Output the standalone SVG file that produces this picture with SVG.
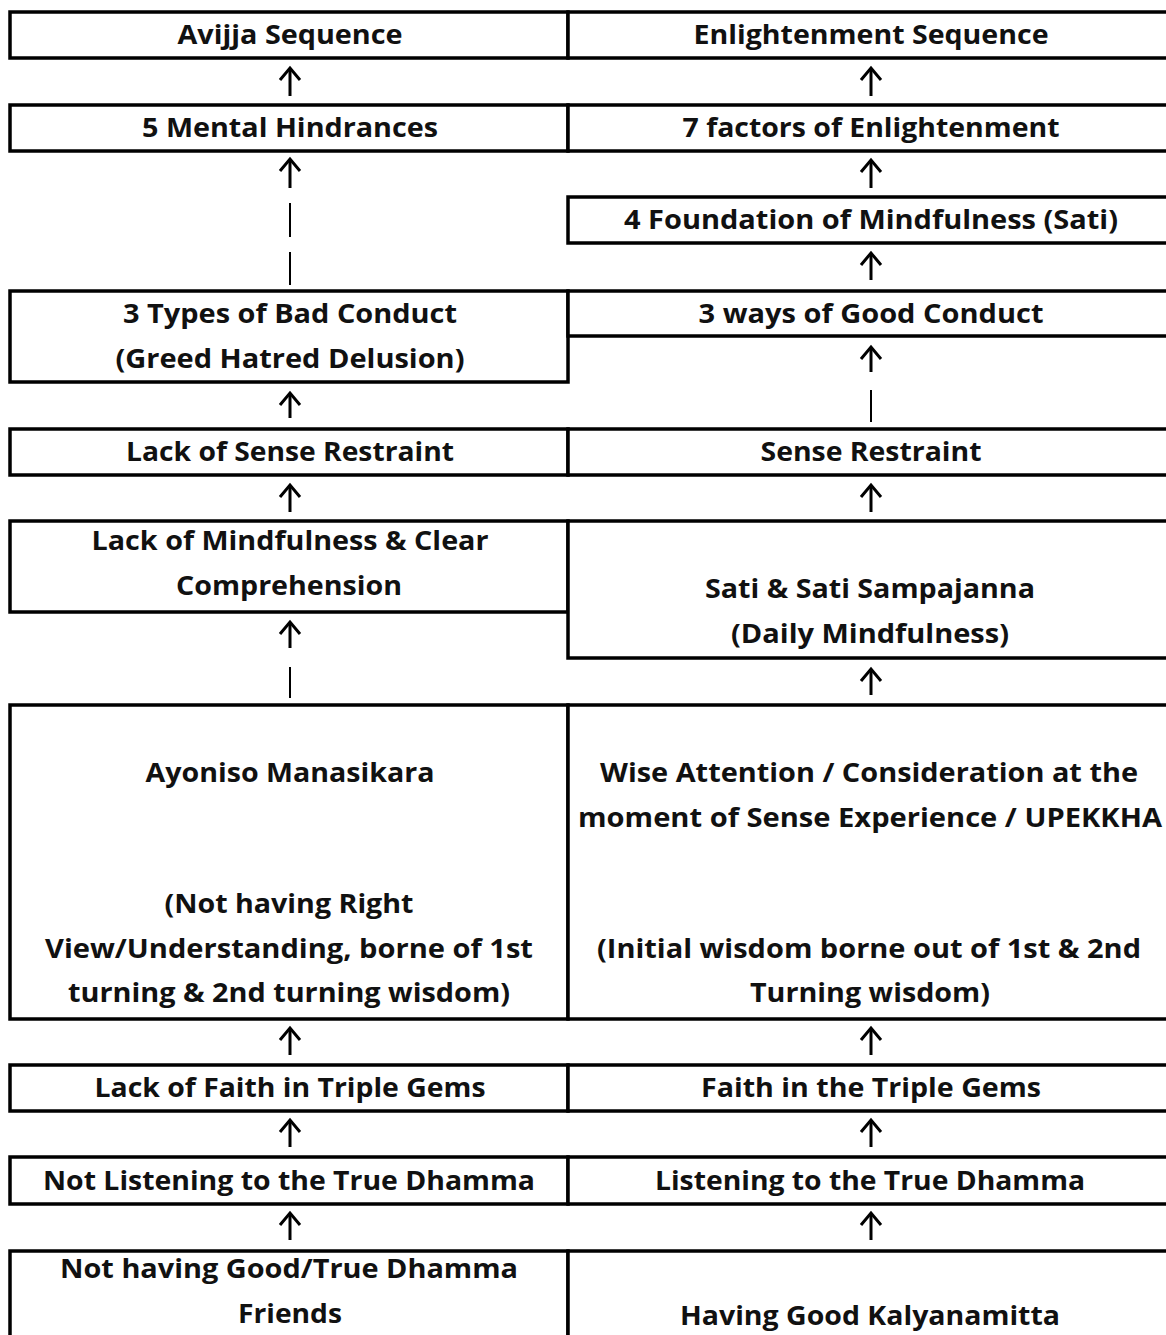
<svg xmlns="http://www.w3.org/2000/svg" width="1166" height="1335" viewBox="0 0 1166 1335">
<defs>
<style>
.box{fill:#fff;stroke:#000;stroke-width:3.5}
.t{font-family:"Open Sans","Noto Sans","Liberation Sans",sans-serif;font-weight:bold;font-size:27px;fill:#111;text-anchor:middle}
.c{stroke:#000;stroke-width:3;fill:none}
.d{stroke:#000;stroke-width:2;fill:none}
</style>
<marker id="ah" markerUnits="userSpaceOnUse" viewBox="-15 -15 30 30" markerWidth="30" markerHeight="30" refX="0" refY="0" orient="auto" overflow="visible">
<path d="M -12 -10 L 0 0 L -12 10" fill="none" stroke="#000" stroke-width="3"/>
</marker>
</defs>
<rect width="1166" height="1335" fill="#fff"/>

<g id="L1"><rect class="box" x="10" y="12" width="558" height="46"/><text class="t" x="290" y="44" textLength="225" lengthAdjust="spacingAndGlyphs">Avijja Sequence</text></g>
<g id="R1"><rect class="box" x="568" y="12" width="606" height="46"/><text class="t" x="871" y="44" textLength="355" lengthAdjust="spacingAndGlyphs">Enlightenment Sequence</text></g>
<g id="L2"><rect class="box" x="10" y="105" width="558" height="46"/><text class="t" x="290" y="137" textLength="296" lengthAdjust="spacingAndGlyphs">5 Mental Hindrances</text></g>
<g id="R2"><rect class="box" x="568" y="105" width="606" height="46"/><text class="t" x="871" y="137" textLength="377" lengthAdjust="spacingAndGlyphs">7 factors of Enlightenment</text></g>
<g id="R3"><rect class="box" x="568" y="197" width="606" height="46"/><text class="t" x="871" y="229" textLength="494" lengthAdjust="spacingAndGlyphs">4 Foundation of Mindfulness (Sati)</text></g>
<g id="L4"><rect class="box" x="10" y="291" width="558" height="91"/><text class="t" x="290" y="323" textLength="334" lengthAdjust="spacingAndGlyphs">3 Types of Bad Conduct</text><text class="t" x="290" y="368" textLength="349" lengthAdjust="spacingAndGlyphs">(Greed Hatred Delusion)</text></g>
<g id="R4"><rect class="box" x="568" y="291" width="606" height="45"/><text class="t" x="871" y="323" textLength="345" lengthAdjust="spacingAndGlyphs">3 ways of Good Conduct</text></g>
<g id="L5"><rect class="box" x="10" y="429" width="558" height="46"/><text class="t" x="290" y="461" textLength="328" lengthAdjust="spacingAndGlyphs">Lack of Sense Restraint</text></g>
<g id="R5"><rect class="box" x="568" y="429" width="606" height="46"/><text class="t" x="871" y="461" textLength="221" lengthAdjust="spacingAndGlyphs">Sense Restraint</text></g>
<g id="L6"><rect class="box" x="10" y="521" width="558" height="91"/><text class="t" x="290" y="550" textLength="397" lengthAdjust="spacingAndGlyphs">Lack of Mindfulness &amp; Clear</text><text class="t" x="289" y="595" textLength="226" lengthAdjust="spacingAndGlyphs">Comprehension</text></g>
<g id="R6"><rect class="box" x="568" y="521" width="606" height="137"/><text class="t" x="870" y="598" textLength="330" lengthAdjust="spacingAndGlyphs">Sati &amp; Sati Sampajanna</text><text class="t" x="870" y="643" textLength="278" lengthAdjust="spacingAndGlyphs">(Daily Mindfulness)</text></g>
<g id="L7"><rect class="box" x="10" y="705" width="558" height="314"/><text class="t" x="290" y="782" textLength="289" lengthAdjust="spacingAndGlyphs">Ayoniso Manasikara</text><text class="t" x="289" y="913" textLength="249" lengthAdjust="spacingAndGlyphs">(Not having Right</text><text class="t" x="289" y="958" textLength="488" lengthAdjust="spacingAndGlyphs">View/Understanding, borne of 1st</text><text class="t" x="289" y="1002" textLength="442" lengthAdjust="spacingAndGlyphs">turning &amp; 2nd turning wisdom)</text></g>
<g id="R7"><rect class="box" x="568" y="705" width="606" height="314"/><text class="t" x="869" y="782" textLength="538" lengthAdjust="spacingAndGlyphs">Wise Attention / Consideration at the</text><text class="t" x="870" y="827" textLength="584" lengthAdjust="spacingAndGlyphs">moment of Sense Experience / UPEKKHA</text><text class="t" x="869" y="958" textLength="544" lengthAdjust="spacingAndGlyphs">(Initial wisdom borne out of 1st &amp; 2nd</text><text class="t" x="870" y="1002" textLength="240" lengthAdjust="spacingAndGlyphs">Turning wisdom)</text></g>
<g id="L8"><rect class="box" x="10" y="1065" width="558" height="46"/><text class="t" x="290" y="1097" textLength="391" lengthAdjust="spacingAndGlyphs">Lack of Faith in Triple Gems</text></g>
<g id="R8"><rect class="box" x="568" y="1065" width="606" height="46"/><text class="t" x="871" y="1097" textLength="340" lengthAdjust="spacingAndGlyphs">Faith in the Triple Gems</text></g>
<g id="L9"><rect class="box" x="10" y="1157" width="558" height="47"/><text class="t" x="289" y="1190" textLength="492" lengthAdjust="spacingAndGlyphs">Not Listening to the True Dhamma</text></g>
<g id="R9"><rect class="box" x="568" y="1157" width="606" height="47"/><text class="t" x="870" y="1190" textLength="430" lengthAdjust="spacingAndGlyphs">Listening to the True Dhamma</text></g>
<g id="L10"><rect class="box" x="10" y="1251" width="558" height="110"/><text class="t" x="289" y="1278" textLength="458" lengthAdjust="spacingAndGlyphs">Not having Good/True Dhamma</text><text class="t" x="290" y="1323" textLength="104" lengthAdjust="spacingAndGlyphs">Friends</text></g>
<g id="R10"><rect class="box" x="568" y="1251" width="606" height="110"/><text class="t" x="870" y="1325" textLength="380" lengthAdjust="spacingAndGlyphs">Having Good Kalyanamitta</text></g>

<g id="connectors">
<line class="c" x1="290" y1="96" x2="290" y2="68" marker-end="url(#ah)"/>
<line class="c" x1="871" y1="96" x2="871" y2="68" marker-end="url(#ah)"/>
<line class="c" x1="290" y1="188" x2="290" y2="159" marker-end="url(#ah)"/>
<line class="d" x1="290" y1="237" x2="290" y2="203"/>
<line class="d" x1="290" y1="285" x2="290" y2="252"/>
<line class="c" x1="871" y1="188" x2="871" y2="160" marker-end="url(#ah)"/>
<line class="c" x1="871" y1="280" x2="871" y2="253" marker-end="url(#ah)"/>
<line class="c" x1="290" y1="418" x2="290" y2="393" marker-end="url(#ah)"/>
<line class="c" x1="871" y1="372" x2="871" y2="347" marker-end="url(#ah)"/>
<line class="d" x1="871" y1="422" x2="871" y2="390"/>
<line class="c" x1="290" y1="512" x2="290" y2="485" marker-end="url(#ah)"/>
<line class="c" x1="871" y1="512" x2="871" y2="485" marker-end="url(#ah)"/>
<line class="c" x1="290" y1="648" x2="290" y2="622" marker-end="url(#ah)"/>
<line class="d" x1="290" y1="698" x2="290" y2="667"/>
<line class="c" x1="871" y1="695" x2="871" y2="669" marker-end="url(#ah)"/>
<line class="c" x1="290" y1="1055" x2="290" y2="1028" marker-end="url(#ah)"/>
<line class="c" x1="871" y1="1055" x2="871" y2="1028" marker-end="url(#ah)"/>
<line class="c" x1="290" y1="1147" x2="290" y2="1120" marker-end="url(#ah)"/>
<line class="c" x1="871" y1="1147" x2="871" y2="1120" marker-end="url(#ah)"/>
<line class="c" x1="290" y1="1240" x2="290" y2="1213" marker-end="url(#ah)"/>
<line class="c" x1="871" y1="1240" x2="871" y2="1213" marker-end="url(#ah)"/>
</g>
</svg>
